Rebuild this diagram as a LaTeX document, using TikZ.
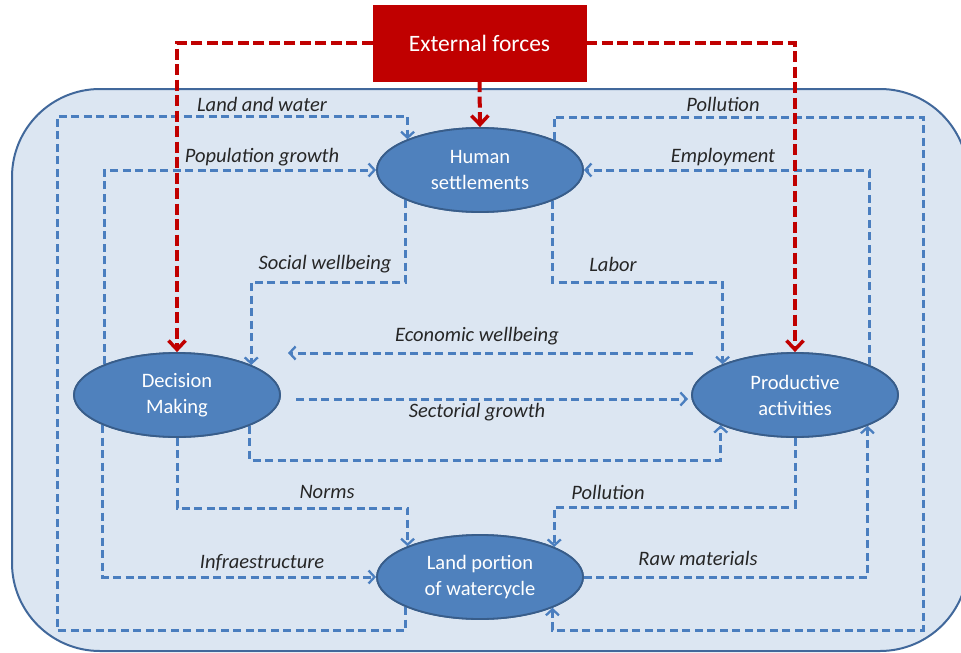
\documentclass[tikz,border=0pt]{standalone}
\usepackage{fontspec}
\setmainfont{Carlito}
\usetikzlibrary{shapes.geometric,arrows.meta}
\definecolor{panelfill}{HTML}{DCE6F2}
\definecolor{panelline}{HTML}{41689B}
\definecolor{ellfill}{HTML}{4F81BD}
\definecolor{ellline}{HTML}{385D8A}
\definecolor{flowblue}{HTML}{4A7EBF}
\definecolor{forcered}{HTML}{C00000}
\definecolor{labelgray}{HTML}{262626}
\tikzset{
  proc/.style={ellipse, draw=ellline, line width=1.8pt, fill=ellfill,
    minimum width=206pt, minimum height=84pt, inner sep=0pt,
    text=white, align=center, font=\fontsize{20.5}{26}\selectfont},
  forcebox/.style={rectangle, fill=forcered, draw=forcered,
    minimum width=213pt, minimum height=76pt, inner sep=0pt,
    text=white, font=\fontsize{23.5}{28}\selectfont},
  flow/.style={draw=flowblue, line width=3pt, dash pattern=on 8pt off 4.5pt,
    -{Straight Barb[length=6pt,width=13pt,line width=2.3pt]}},
  force/.style={draw=forcered, line width=4pt, dash pattern=on 11pt off 4.5pt,
    -{Straight Barb[length=9pt,width=17pt,line width=3.5pt]}},
  lbl/.style={text=labelgray, font=\fontsize{20.5}{24}\selectfont\itshape, inner sep=0pt}
}
\begin{document}
\begin{tikzpicture}[x=1pt,y=-1pt]
\useasboundingbox (0,0) rectangle (961,653);
% system boundary
\draw[panelline, fill=panelfill, line width=2pt, rounded corners=88pt]
  (12,89) rectangle (968,651);

% nodes
\node[forcebox] (ext) at (479.5,43) {External forces};
\node[proc] (hs) at (480,170) {Human\\settlements};
\node[proc] (dm) at (177,395) {Decision\\Making};
\node[proc] (pa) at (795,395) {Productive\\activities};
\node[proc] (lp) at (480,577) {Land portion\\of watercycle};

\coordinate (ewA) at (693,353);
\coordinate (ewB) at (288,353);
\coordinate (sgA) at (296,399);
\coordinate (sgB) at (688,399);

% blue flows
\draw[flow] (lp.202.64) |- (57,630) |- (hs.157.36 |- 0,116) -- (hs.157.36);
\draw[flow] (dm.157.36) |- (hs.west);
\draw[flow] (dm.202.64) |- (lp.west);
\draw[flow] (hs.202.64) -- (hs.202.64 |- 0,282) -| (dm.22.64);
\draw[flow] (hs.337.36) -- (hs.337.36 |- 0,282) -| (pa.157.36);
\draw[flow] (hs.22.64) |- (923,117) |- (lp.337.36 |- 0,630) -- (lp.337.36);
\draw[flow] (pa.22.64) |- (hs.east);
\draw[flow] (lp.east) -| (pa.337.36);
\draw[flow] (pa.south) -- (pa.south |- 0,507) -| (lp.22.64);
\draw[flow] (dm.south) -- (dm.south |- 0,508) -| (lp.157.36);
\draw[flow] (dm.337.36) -- (dm.337.36 |- 0,460) -| (pa.202.64);
\draw[flow] (ewA) -- (ewB);
\draw[flow] (sgA) -- (sgB);

% external forces
\draw[force] (ext.west) -| (dm.north);
\draw[force] (ext.east) -| (pa.north);
\draw[force] (ext.south) -- (hs.north);

% redraw nodes above the flows
\node[proc] at (hs) {Human\\settlements};
\node[proc] at (dm) {Decision\\Making};
\node[proc] at (pa) {Productive\\activities};
\node[proc] at (lp) {Land portion\\of watercycle};

% flow labels
\node[lbl] (l1) at (262,104) {Land and water};
\node[lbl] (l2) at (262,157) {Population growth};
\node[lbl] (l3) at (325,264) {Social wellbeing};
\node[lbl] (l4) at (613,264) {Labor};
\node[lbl] (l5) at (477,336) {Economic wellbeing};
\node[lbl] (l6) at (477,412) {Sectorial growth};
\node[lbl] (l7) at (327,492) {Norms};
\node[lbl] (l8) at (262,563) {Infraestructure};
\node[lbl] (l9) at (723,104) {Pollution};
\node[lbl] (l10) at (723,157) {Employment};
\node[lbl] (l11) at (608,492) {Pollution};
\node[lbl] (l12) at (698,558) {Raw materials};
\end{tikzpicture}
\end{document}
